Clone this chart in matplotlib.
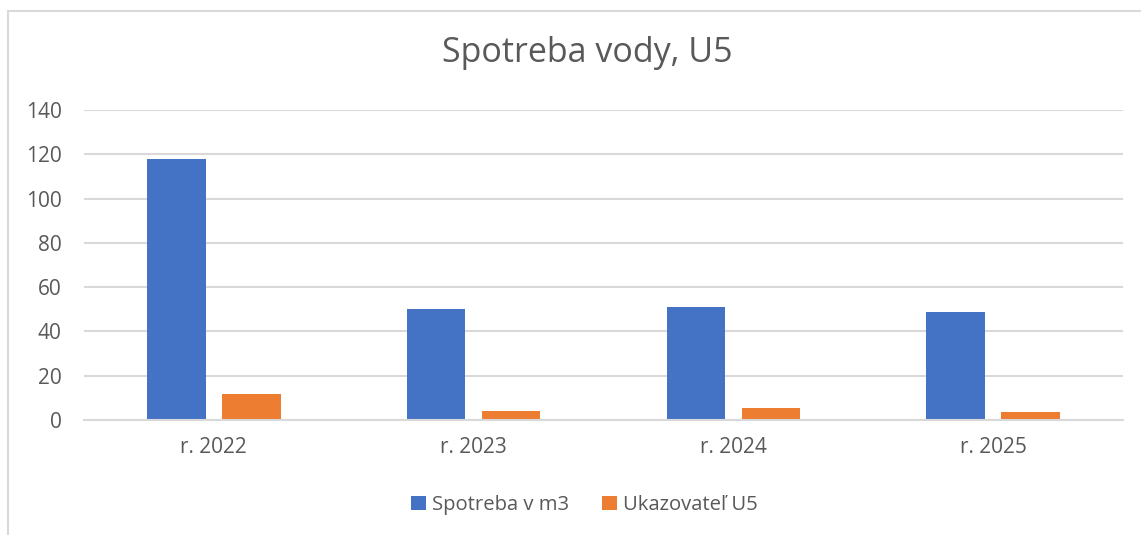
import numpy as np
import matplotlib
matplotlib.use("Agg")
import matplotlib.pyplot as plt
from matplotlib.patches import Rectangle

# data
years = ["r. 2022", "r. 2023", "r. 2024", "r. 2025"]
spotreba = [118, 50, 51, 49]
ukazovatel = [11.6, 3.9, 5.3, 3.6]

blue = "#4472C4"
orange = "#ED7D31"
txt = "#595959"
grid = "#D9D9D9"

plt.rcParams['font.family'] = ['Open Sans', 'DejaVu Sans']

fig = plt.figure(figsize=(11.41, 5.35), dpi=100)
ax = fig.add_axes([84 / 1141, 1 - 420 / 535, (1123 - 84) / 1141, 310 / 535])

# chart frame like excel
fig.patches.append(Rectangle((8 / 1141, -0.05), 1.2, 1 - 11 / 535 + 0.05,
                             transform=fig.transFigure, fill=False,
                             edgecolor=grid, linewidth=1.5))

x = np.arange(len(years))
w = 0.225
off = 0.144
ax.bar(x - off, spotreba, w, color=blue, label="Spotreba v m3")
ax.bar(x + off, ukazovatel, w, color=orange, label="Ukazovateľ U5")

ax.set_xlim(-0.5, len(years) - 0.5)
ax.set_ylim(0, 140)
ax.set_yticks(range(0, 141, 20))
ax.set_xticks(x)
ax.set_xticklabels(years)
ax.grid(axis="y", color=grid, linewidth=1.5)
ax.set_axisbelow(True)
for s in ["top", "right", "left"]:
    ax.spines[s].set_visible(False)
ax.spines["bottom"].set_color(grid)
ax.spines["bottom"].set_linewidth(1.5)
ax.tick_params(length=0, labelsize=15, labelcolor=txt)
ax.tick_params(axis="y", pad=16)
ax.tick_params(axis="x", pad=12)

fig.text(0.515, 1 - 53 / 535, "Spotreba vody, U5", ha="center", va="center",
         fontsize=24.5, color=txt)

fig.legend(loc="center", bbox_to_anchor=(0.512, 1 - 505 / 535), ncol=2,
           frameon=False, fontsize=14.6, labelcolor=txt, handlelength=0.75,
           handleheight=0.75, handletextpad=0.3, columnspacing=1.6)

fig.savefig("out.png", dpi=100)
